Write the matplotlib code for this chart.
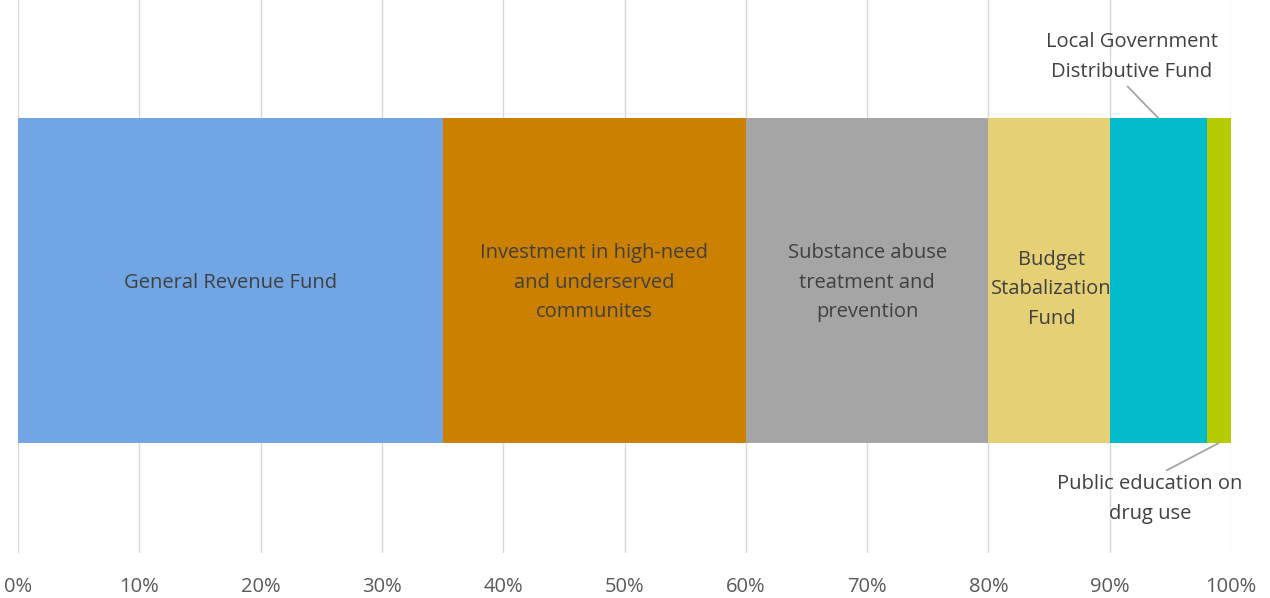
import matplotlib
matplotlib.use("Agg")
import matplotlib.pyplot as plt
from matplotlib.ticker import PercentFormatter

categories = ["General Revenue Fund",
              "Investment in high-need\nand underserved\ncommunites",
              "Substance abuse\ntreatment and\nprevention",
              "Budget\nStabalization\nFund",
              "Local Government\nDistributive Fund",
              "Public education on\ndrug use"]
shares = [35, 25, 20, 10, 8, 2]
colors = ["#71A5E4", "#CC8000", "#A5A5A5", "#E5D075", "#00BCCB", "#B5CC00"]
ticks = list(range(0, 101, 10))

plt.rcParams['font.family'] = ['Open Sans', 'DejaVu Sans']

FS = 14.5
LS = 1.62

fig = plt.figure(figsize=(12.7, 5.98), dpi=100)
ax = fig.add_axes([18/1270, 1 - 553/598, (1231 - 18)/1270, 553/598])
ax.set_xlim(0, 100)
ax.set_ylim(0, 1)

bar_y = 1 - 280.5/553
bar_h = 325/553
left = 0
for i, (cat, v, c) in enumerate(zip(categories, shares, colors)):
    ax.barh(bar_y, v, left=left, height=bar_h, color=c, zorder=2)
    cx = left + v/2
    if i < 4:
        xoff = 0.2 if i == 3 else 0
        yoff = -9/553 if i == 3 else -2/553
        ax.text(cx + xoff, bar_y + yoff, cat, ha='center', va='center', fontsize=FS,
                color='#404040', linespacing=LS, zorder=3)
    elif i == 4:
        ax.annotate(cat, xy=(cx, bar_y + bar_h/2), xytext=(91.8, 1 - 57/553),
                    ha='center', va='center', fontsize=FS, color='#404040',
                    linespacing=LS,
                    arrowprops=dict(arrowstyle='-', color='#A5A5A5', lw=1.3,
                                    shrinkA=2, shrinkB=0,
                                    relpos=(0.45, 0)), zorder=3)
    else:
        ax.annotate(cat, xy=(cx, bar_y - bar_h/2), xytext=(93.3, 1 - 499/553),
                    ha='center', va='center', fontsize=FS, color='#404040',
                    linespacing=LS,
                    arrowprops=dict(arrowstyle='-', color='#A5A5A5', lw=1.3,
                                    shrinkA=2, shrinkB=0,
                                    relpos=(0.55, 1.0)), zorder=3)
    left += v

ax.set_xticks(ticks)
ax.xaxis.set_major_formatter(PercentFormatter(decimals=0))
ax.set_yticks([])
ax.grid(axis='x', color='#D9D9D9', lw=1.0, zorder=0)
for s in ax.spines.values():
    s.set_visible(False)
ax.tick_params(axis='x', length=0, pad=17, labelsize=FS, labelcolor='#595959')

fig.savefig("out.png", dpi=100)
